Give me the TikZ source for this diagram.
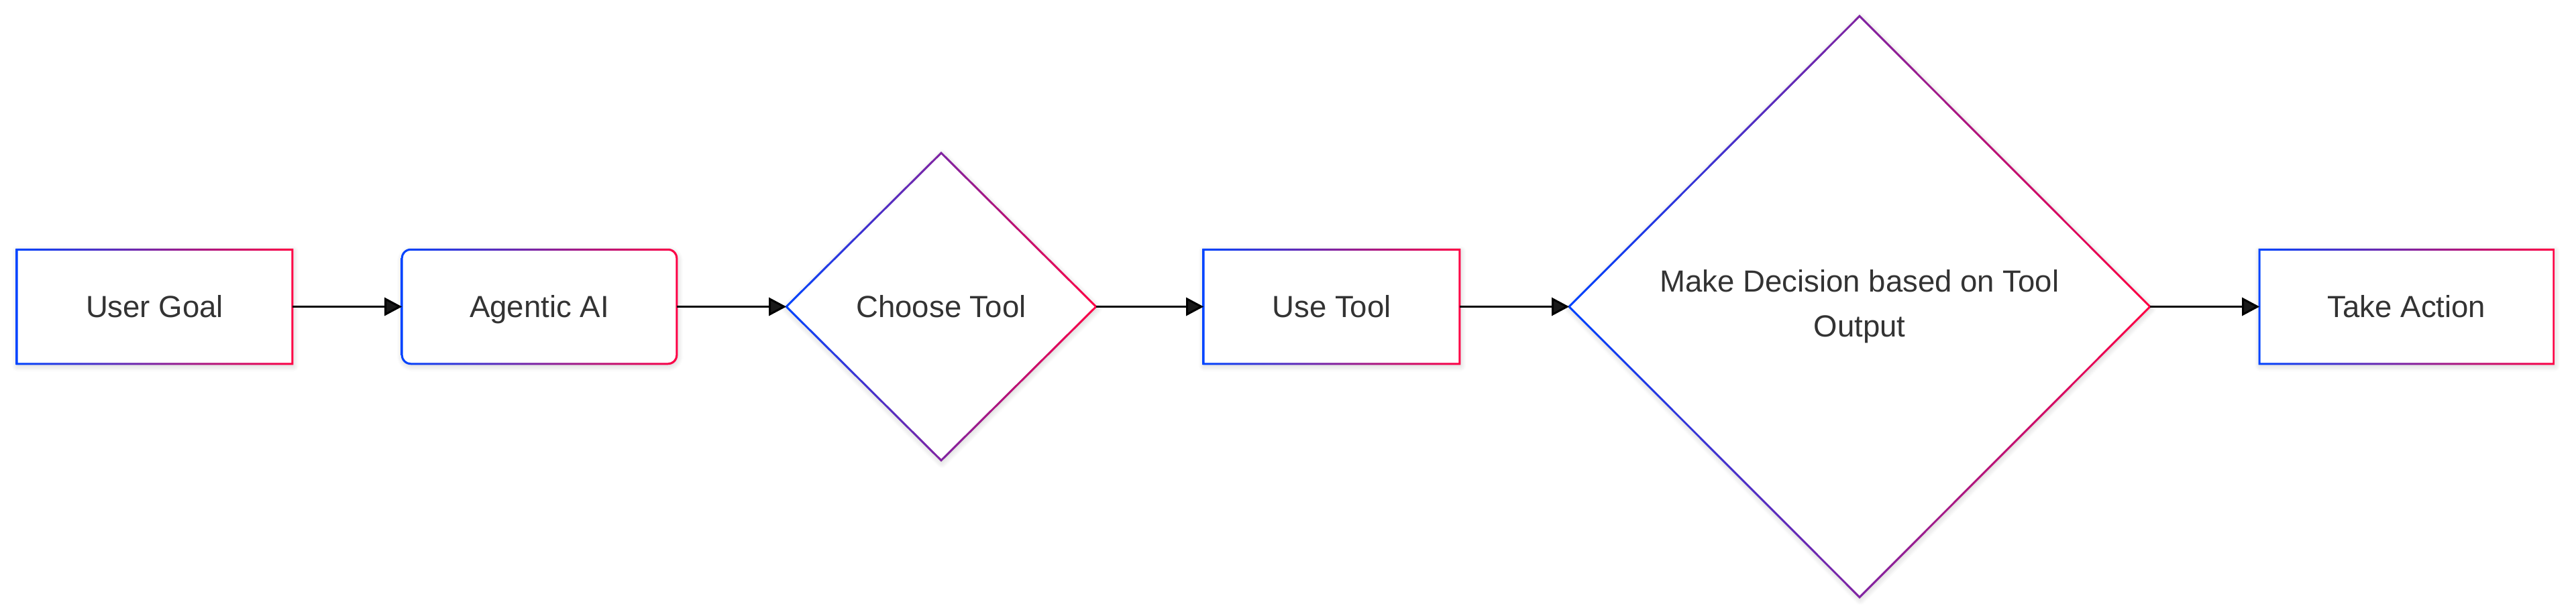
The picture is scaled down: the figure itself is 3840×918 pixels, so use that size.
\documentclass[tikz,border=0pt]{standalone}
\usepackage{fontspec}
\setmainfont{Liberation Sans}
\usetikzlibrary{arrows.meta,calc,shadows.blur}
\definecolor{gblue}{RGB}{0,68,255}
\definecolor{gred}{RGB}{255,0,68}
\definecolor{txt}{RGB}{51,51,51}
\pgfdeclarelayer{canvas}
\pgfdeclarelayer{shadow}
\pgfsetlayers{canvas,shadow,main}
\tikzset{
  lbl/.style={draw=none, inner sep=0pt, text=txt, font=\fontsize{12.95pt}{19pt}\selectfont, align=center},
  oneline/.style={lbl, text height=0.326cm, text depth=0pt},
  boxnode/.style={oneline, minimum height=1.69cm},
  gs/.style={left color=gblue, right color=gred},
  shad/.style={blur shadow={shadow xshift=0.01cm, shadow yshift=-0.03cm, shadow blur radius=0.09cm, shadow opacity=20, shadow blur steps=12}},
  arr/.style={line width=0.03cm, -{Triangle[length=0.26cm,width=0.27cm]}},
}
% gradient ring for a rectangle node: #1 node, #2 outer corner option, #3 inner corner option
\newcommand\ringrect[3]{%
  \begin{pgfonlayer}{shadow}
    \fill[white, shad, #2] (#1.north west) rectangle (#1.south east);
  \end{pgfonlayer}
  \shade[gs, #2] ([yshift=0.015cm]#1.north) -- ([shift={(0.015cm,0.015cm)}]#1.north east) -- ([shift={(0.015cm,-0.015cm)}]#1.south east) -- ([shift={(-0.015cm,-0.015cm)}]#1.south west) -- ([shift={(-0.015cm,0.015cm)}]#1.north west) -- cycle
   [#3] ([yshift=-0.015cm]#1.north) -- ([shift={(0.015cm,-0.015cm)}]#1.north west) -- ([shift={(0.015cm,0.015cm)}]#1.south west) -- ([shift={(-0.015cm,0.015cm)}]#1.south east) -- ([shift={(-0.015cm,-0.015cm)}]#1.north east) -- cycle;
}
% gradient ring for a diamond drawn on a rectangle node's edge midpoints
\newcommand\ringdiamond[1]{%
  \begin{pgfonlayer}{shadow}
    \fill[white, shad] (#1.west) -- (#1.north) -- (#1.east) -- (#1.south) -- cycle;
  \end{pgfonlayer}
  \shade[gs] ([xshift=-0.021cm]#1.west) -- ([yshift=0.021cm]#1.north) -- ([xshift=0.021cm]#1.east) -- ([yshift=-0.021cm]#1.south) -- cycle
     ([xshift=0.021cm]#1.west) -- ([yshift=0.021cm]#1.south) -- ([xshift=-0.021cm]#1.east) -- ([yshift=-0.021cm]#1.north) -- cycle;
}
\begin{document}
\begin{tikzpicture}[x=0.01cm, y=-0.01cm]
\useasboundingbox (0,0) rectangle (3840,918);
\begin{pgfonlayer}{canvas}
  \fill[white] (0,0) rectangle (3840,918);
\end{pgfonlayer}
% off-page warm-up so that every shadow opacity state is defined before use
\begin{pgfonlayer}{shadow}
  \fill[white, shad] (-900,-900) rectangle (-800,-800);
\end{pgfonlayer}

\node[boxnode, minimum width=4.09cm] (ug) at (230.5,457.5) {User Goal};
\node[boxnode, minimum width=4.08cm] (ag) at (804,457.5) {Agentic AI};
\node[oneline, minimum width=4.60cm, minimum height=4.57cm] (ct) at (1403,457.5) {Choose Tool};
\node[boxnode, minimum width=3.80cm] (ut) at (1985,457.5) {Use Tool};
\node[lbl, minimum width=8.64cm, minimum height=8.65cm] (dec) at (2772,457.5) {Make Decision based on Tool\\Output};
\node[boxnode, minimum width=4.37cm] (ta) at (3587.5,457.5) {Take Action};

\ringrect{ug}{sharp corners}{sharp corners}
\ringrect{ag}{rounded corners=0.145cm}{rounded corners=0.115cm}
\ringdiamond{ct}
\ringrect{ut}{sharp corners}{sharp corners}
\ringdiamond{dec}
\ringrect{ta}{sharp corners}{sharp corners}

\draw[arr] (ug.east) -- (ag.west);
\draw[arr] (ag.east) -- (ct.west);
\draw[arr] (ct.east) -- (ut.west);
\draw[arr] (ut.east) -- (dec.west);
\draw[arr] (dec.east) -- (ta.west);
\end{tikzpicture}
\end{document}
